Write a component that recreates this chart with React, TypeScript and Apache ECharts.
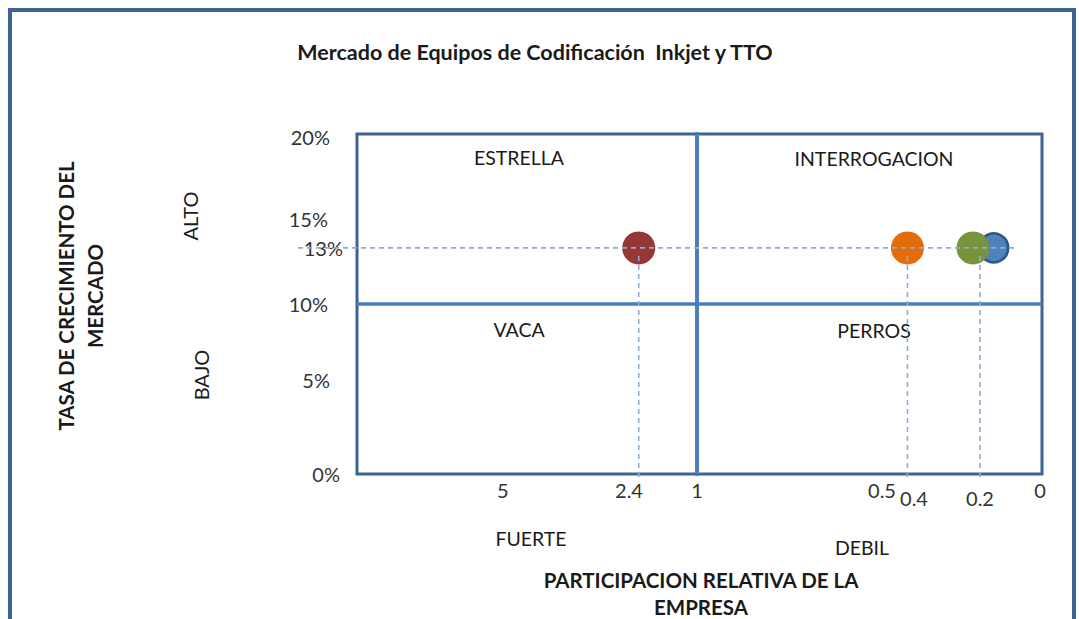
import React, { useEffect, useRef } from "react";
import * as echarts from "echarts";

const chartTitle = "Mercado de Equipos de Codificación  Inkjet y TTO";
const yAxisTitle = "TASA DE CRECIMIENTO DEL\nMERCADO";
const xAxisTitle = "PARTICIPACION RELATIVA DE LA\nEMPRESA";
const quadrantNames = ["ESTRELLA", "INTERROGACION", "VACA", "PERROS"];
const growthLevels = ["ALTO", "BAJO"];
const shareLevels = ["FUERTE", "DEBIL"];

// Strong side (relative share > 1), weak side (relative share < 1)
const strongShare = [2.2];
const strongGrowth = [13.3];
const strongColors = ["#953735"];
const weakShare = [0.14, 0.2, 0.39];
const weakGrowth = [13.3, 13.3, 13.3];
const weakColors = ["#4F81BD", "#77933C", "#E46C0A"];

const yTicks = [0, 5, 10, 13.3, 15, 20];
const xTicksStrong = [5, 2.4, 1];
const xTicksWeak = [0.5, 0.4, 0.2, 0];
const strongRange = [1, 8];
const weakRange = [0, 1];
const growthRange = [0, 20];
const quadrantSplitShare = 1;
const quadrantSplitGrowth = 10;
const guideGrowth = 13.3;
const guideShareStrong = [2.2];
const guideShareWeak = [0.39, 0.18];
const guideEndShare = 0.08;

const FONT = "Lato, 'Open Sans', sans-serif";
const FRAME = "#3E6496";
const QUAD = "#4A7EBB";
const GUIDE = "#8EACD8";
const TICK_SIZE = 20;

const yPad: Record<string, number[]> = {
  "0": [0, 5, 0, 0],
  "5": [0, 15, 18, 0],
  "10": [0, 17, 0, 0],
  "13": [0, 2, 0, 0],
  "15": [0, 17, 0, 0],
  "20": [6, 15, 0, 0],
};
const xPadWeak: Record<string, number[]> = {
  "0.5": [0, 0, 0, 25],
  "0.4": [8, 0, 0, 20],
  "0.2": [8, 0, 0, 14],
  "0": [0, 4, 0, 0],
};

function tokenName(v: number) {
  return "t" + String(v).replace(".", "_");
}

export default function App() {
  const ref = useRef<HTMLDivElement>(null);
  useEffect(() => {
    if (!ref.current) return;
    const chart = echarts.init(ref.current, null, { renderer: "svg" });

    const yRich: any = {};
    Object.keys(yPad).forEach((k) => {
      yRich["y" + k] = { padding: yPad[k], fontSize: TICK_SIZE, fontFamily: FONT, color: "#333" };
    });
    const xRichWeak: any = {};
    Object.keys(xPadWeak).forEach((k) => {
      xRichWeak[tokenName(Number(k))] = { padding: xPadWeak[k], fontSize: TICK_SIZE, fontFamily: FONT, color: "#333" };
    });

    const gridBase = { top: 134, height: 340, show: true, borderColor: FRAME, borderWidth: 3, backgroundColor: "transparent" };

    const quadLine = { color: QUAD, width: 3.5, type: "solid" };

    const option: any = {
      animation: false,
      backgroundColor: "#ffffff",
      textStyle: { fontFamily: FONT },
      grid: [
        { ...gridBase, left: 357, width: 340 },
        { ...gridBase, left: 697, width: 345 },
      ],
      xAxis: [
        {
          type: "value",
          gridIndex: 0,
          min: strongRange[0],
          max: strongRange[1],
          inverse: true,
          axisLine: { show: false },
          axisTick: { show: false },
          splitLine: { show: false },
          axisLabel: {
            customValues: xTicksStrong,
            margin: 6,
            fontSize: TICK_SIZE,
            fontFamily: FONT,
            color: "#333",
            formatter: (v: number) => String(v),
          },
        },
        {
          type: "value",
          gridIndex: 1,
          min: weakRange[0],
          max: weakRange[1],
          inverse: true,
          axisLine: { show: false },
          axisTick: { show: false },
          splitLine: { show: false },
          axisLabel: {
            customValues: xTicksWeak,
            margin: 6,
            fontSize: TICK_SIZE,
            fontFamily: FONT,
            color: "#333",
            formatter: (v: number) => "{" + tokenName(v) + "|" + String(v) + "}",
            rich: xRichWeak,
          },
        },
      ],
      yAxis: [
        {
          type: "value",
          gridIndex: 0,
          min: growthRange[0],
          max: growthRange[1],
          axisLine: { show: false },
          axisTick: { show: false },
          splitLine: { show: false },
          axisLabel: {
            customValues: yTicks,
            margin: 12,
            fontSize: TICK_SIZE,
            fontFamily: FONT,
            color: "#333",
            formatter: (v: number) => {
              const r = Math.round(v);
              return "{y" + r + "|" + r + "%}";
            },
            rich: yRich,
          },
        },
        {
          type: "value",
          gridIndex: 1,
          min: growthRange[0],
          max: growthRange[1],
          axisLine: { show: false },
          axisTick: { show: false },
          splitLine: { show: false },
          axisLabel: { show: false },
        },
      ],
      series: [
        {
          type: "scatter",
          xAxisIndex: 0,
          yAxisIndex: 0,
          symbolSize: 33,
          data: strongShare.map((s, i) => ({
            value: [s, strongGrowth[i]],
            itemStyle: { color: strongColors[i], opacity: 1 },
          })),
          markLine: {
            silent: true,
            symbol: "none",
            label: { show: false },
            lineStyle: quadLine,
            data: [{ xAxis: quadrantSplitShare }, { yAxis: quadrantSplitGrowth }],
          },
        },
        {
          type: "scatter",
          xAxisIndex: 1,
          yAxisIndex: 1,
          symbolSize: 33,
          data: weakShare.map((s, i) => ({
            value: [s, weakGrowth[i]],
            symbolSize: i === 0 ? 29 : 33,
            itemStyle:
              i === 0
                ? { color: weakColors[i], borderColor: "#2F5586", borderWidth: 2.5, opacity: 1 }
                : { color: weakColors[i], opacity: 1 },
          })),
          markLine: {
            silent: true,
            symbol: "none",
            label: { show: false },
            lineStyle: quadLine,
            data: [{ xAxis: quadrantSplitShare }, { yAxis: quadrantSplitGrowth }],
          },
        },
      ],
    };
    chart.setOption(option);

    const toPx = (gi: number, x: number, y: number) =>
      chart.convertToPixel({ xAxisIndex: gi, yAxisIndex: gi } as any, [x, y]) as number[];

    const [plotLeft, guideY] = toPx(0, strongRange[1], guideGrowth);
    const [guideRight] = toPx(1, guideEndShare, guideGrowth);
    const baseY = toPx(0, strongRange[0], growthRange[0])[1];

    const guideStyle = { stroke: GUIDE, lineWidth: 1.6, lineDash: [5, 4] };
    const guides: any[] = [
      {
        type: "line",
        z: 20,
        silent: true,
        shape: { x1: plotLeft - 59, y1: guideY, x2: guideRight, y2: guideY },
        style: guideStyle,
      },
    ];
    guideShareStrong.forEach((s) => {
      const [gx] = toPx(0, s, guideGrowth);
      guides.push({ type: "line", z: 20, silent: true, shape: { x1: gx, y1: guideY + 8, x2: gx, y2: baseY + 3 }, style: guideStyle });
    });
    guideShareWeak.forEach((s) => {
      const [gx] = toPx(1, s, guideGrowth);
      guides.push({ type: "line", z: 20, silent: true, shape: { x1: gx, y1: guideY + 8, x2: gx, y2: baseY + 3 }, style: guideStyle });
    });

    const txt = (text: string, x: number, y: number, size: number, bold = false, rotate = 0, lh = 0) => ({
      type: "text",
      x,
      y,
      rotation: rotate,
      silent: true,
      style: {
        text,
        fill: "#1a1a1a",
        font: `${bold ? "bold " : ""}${size}px ${FONT}`,
        textAlign: "center",
        textVerticalAlign: "middle",
        align: "center",
        verticalAlign: "middle",
        lineHeight: lh || size + 4,
      },
    });

    const staticGraphics: any[] = [
      {
        type: "rect",
        z: -1,
        silent: true,
        shape: { x: 10, y: 10, width: 1064, height: 660 },
        style: { fill: "none", stroke: FRAME, lineWidth: 4 },
      },
      txt(chartTitle, 535, 52, 21.5, true),
      txt(yAxisTitle, 80, 296, 20.5, true, Math.PI / 2, 29),
      txt(growthLevels[0], 190, 216, 20, false, Math.PI / 2),
      txt(growthLevels[1], 201, 375, 20, false, Math.PI / 2),
      txt(quadrantNames[0], 519, 157, 19.5),
      txt(quadrantNames[1], 874, 158, 19.5),
      txt(quadrantNames[2], 519, 329, 19.5),
      txt(quadrantNames[3], 874, 330, 19.5),
      txt(shareLevels[0], 531, 538, 19.5),
      txt(shareLevels[1], 862, 547, 19.5),
      txt(xAxisTitle, 701, 593, 20.5, true, 0, 27),
    ];

    chart.setOption({ graphic: [...staticGraphics, ...guides] });

    return () => chart.dispose();
  }, []);

  return (
    <div
      ref={ref}
      style={{ position: "fixed", left: 0, top: 0, width: 1079, height: 619, background: "#fff" }}
    />
  );
}
